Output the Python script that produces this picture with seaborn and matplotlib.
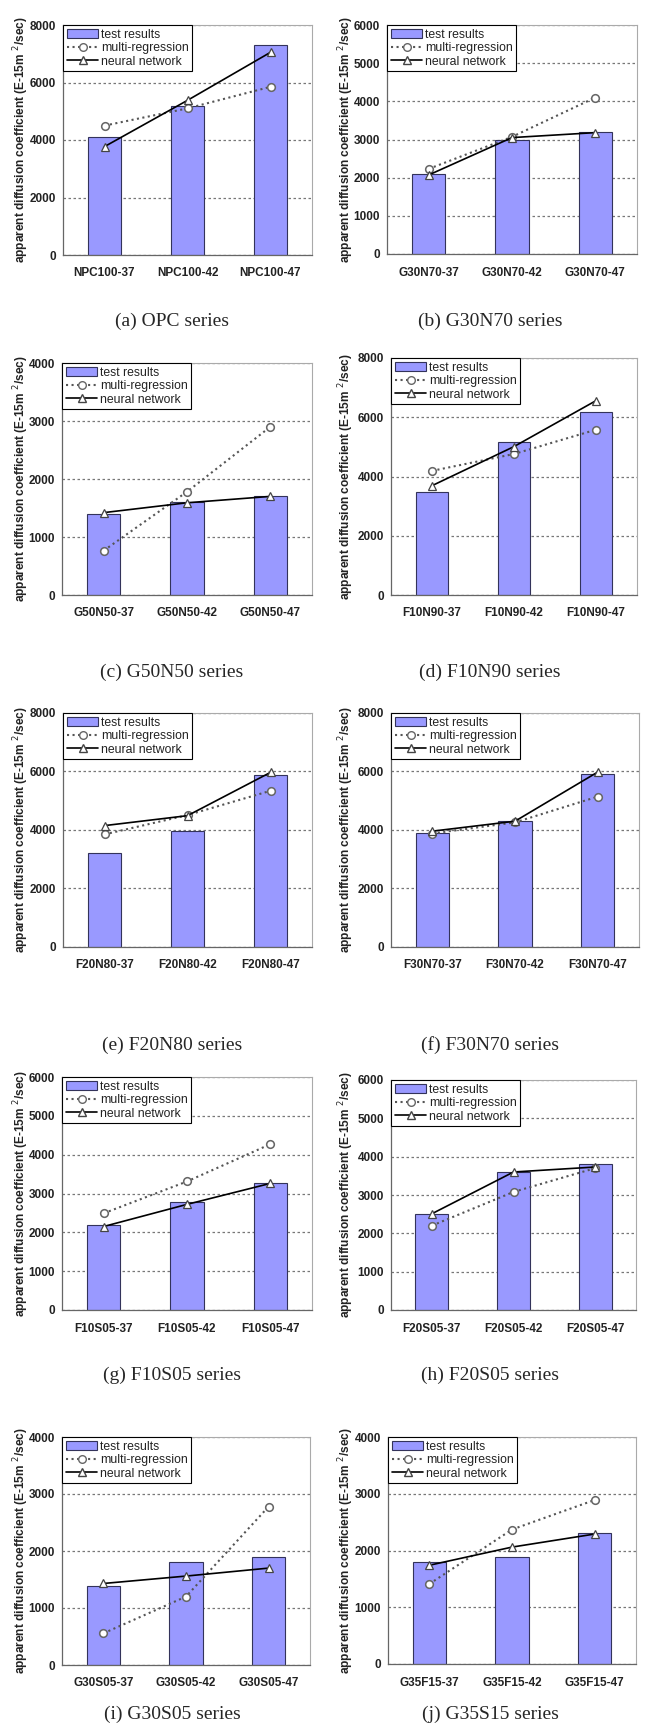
import numpy as np
import pandas as pd
import seaborn as sns
import matplotlib.pyplot as plt
from matplotlib.patches import Patch
from matplotlib.lines import Line2D

# panel data: categories, test results (bars), multi-regression, neural network
cats_a = ['NPC100-37', 'NPC100-42', 'NPC100-47']
test_a = [4100, 5200, 7300]
mreg_a = [4500, 5100, 5850]
nnet_a = [3770, 5380, 7050]

cats_b = ['G30N70-37', 'G30N70-42', 'G30N70-47']
test_b = [2100, 3000, 3200]
mreg_b = [2230, 3070, 4100]
nnet_b = [2070, 3050, 3180]

cats_c = ['G50N50-37', 'G50N50-42', 'G50N50-47']
test_c = [1400, 1600, 1710]
mreg_c = [765, 1780, 2900]
nnet_c = [1420, 1590, 1700]

cats_d = ['F10N90-37', 'F10N90-42', 'F10N90-47']
test_d = [3480, 5170, 6170]
mreg_d = [4190, 4760, 5580]
nnet_d = [3690, 5010, 6560]

cats_e = ['F20N80-37', 'F20N80-42', 'F20N80-47']
test_e = [3200, 3980, 5890]
mreg_e = [3850, 4510, 5340]
nnet_e = [4150, 4490, 5970]

cats_f = ['F30N70-37', 'F30N70-42', 'F30N70-47']
test_f = [3910, 4310, 5910]
mreg_f = [3880, 4260, 5140]
nnet_f = [3960, 4300, 5980]

cats_g = ['F10S05-37', 'F10S05-42', 'F10S05-47']
test_g = [2180, 2780, 3280]
mreg_g = [2490, 3310, 4270]
nnet_g = [2150, 2720, 3260]

cats_h = ['F20S05-37', 'F20S05-42', 'F20S05-47']
test_h = [2510, 3610, 3800]
mreg_h = [2200, 3080, 3700]
nnet_h = [2510, 3600, 3730]

cats_i = ['G30S05-37', 'G30S05-42', 'G30S05-47']
test_i = [1390, 1800, 1890]
mreg_i = [555, 1200, 2780]
nnet_i = [1430, 1560, 1700]

cats_j = ['G35F15-37', 'G35F15-42', 'G35F15-47']
test_j = [1800, 1890, 2300]
mreg_j = [1410, 2370, 2890]
nnet_j = [1740, 2060, 2290]

captions = ['(a) OPC series', '(b) G30N70 series', '(c) G50N50 series', '(d) F10N90 series',
            '(e) F20N80 series', '(f) F30N70 series', '(g) F10S05 series', '(h) F20S05 series',
            '(i) G30S05 series', '(j) G35S15 series']
ymaxes = [8000, 6000, 4000, 8000, 8000, 8000, 6000, 6000, 4000, 4000]
ysteps = [2000, 1000, 1000, 2000, 2000, 2000, 1000, 1000, 1000, 1000]

panels = [(cats_a, test_a, mreg_a, nnet_a), (cats_b, test_b, mreg_b, nnet_b),
          (cats_c, test_c, mreg_c, nnet_c), (cats_d, test_d, mreg_d, nnet_d),
          (cats_e, test_e, mreg_e, nnet_e), (cats_f, test_f, mreg_f, nnet_f),
          (cats_g, test_g, mreg_g, nnet_g), (cats_h, test_h, mreg_h, nnet_h),
          (cats_i, test_i, mreg_i, nnet_i), (cats_j, test_j, mreg_j, nnet_j)]

# axes boxes in pixels: left, right, top, bottom
boxes = [(63, 312, 25, 255), (387, 637, 25, 254),
         (62, 312, 363, 595), (391, 637, 358, 595),
         (63, 312, 713, 947), (391, 639, 713, 947),
         (62, 312, 1077, 1310), (391, 636, 1080, 1310),
         (62, 310, 1437, 1665), (388, 636, 1437, 1664)]
cap_y = [321, 321, 672, 672, 1045, 1045, 1375, 1375, 1714, 1714]
cap_x = [172, 490]
ylab_x = [31, 356]

W, H = 647, 1734
BAR = '#9999ff'

sns.set_style('white')
plt.rcParams['font.family'] = ['Liberation Sans', 'DejaVu Sans']

fig = plt.figure(figsize=(W / 100, H / 100), dpi=100, facecolor='w')

for k, (cats, test, mreg, nnet) in enumerate(panels):
    l, r, t, b = boxes[k]
    ax = fig.add_axes([l / W, 1 - b / H, (r - l) / W, (b - t) / H])
    df = pd.DataFrame({'cat': cats, 'test': test, 'mreg': mreg, 'nnet': nnet})
    sns.barplot(data=df, x='cat', y='test', color=BAR, width=0.4, saturation=1,
                edgecolor='#33335a', linewidth=0.8, ax=ax, zorder=2)
    sns.pointplot(data=df, x='cat', y='mreg', color='#555555', linestyles=':', markers='o',
                  markersize=5.5, markerfacecolor='white', markeredgecolor='#666666',
                  linewidth=1.5, ax=ax, zorder=3)
    sns.pointplot(data=df, x='cat', y='nnet', color='black', linestyles='-', markers='^',
                  markersize=5.5, markerfacecolor='white', markeredgecolor='#444444',
                  linewidth=1.2, ax=ax, zorder=4)
    ymax, step = ymaxes[k], ysteps[k]
    ax.set_xlim(-0.5, 2.5)
    ax.set_ylim(0, ymax)
    ax.set_yticks(np.arange(0, ymax + 1, step))
    ax.set_xticks(range(3))
    ax.set_xticks([0.5, 1.5], minor=True)
    ax.set_xticklabels(cats, fontsize=8.5, fontweight='bold', color='#222222')
    ax.tick_params(axis='y', labelsize=8.5, length=0, pad=5, labelcolor='#222222')
    for lab in ax.get_yticklabels():
        lab.set_fontweight('bold')
    ax.tick_params(axis='x', which='major', length=0, pad=9)
    ax.tick_params(axis='x', which='minor', length=3, width=0.8, color='#666666')
    ax.set_xlabel('')
    ax.set_ylabel('apparent diffusion coefficient (E-15m $^{2}$/sec)', fontsize=8.6,
                  fontweight='bold', color='#222222')
    ax.yaxis.set_label_coords((ylab_x[k % 2] - l) / (r - l), 0.5)
    ax.yaxis.grid(True, linestyle=(0, (2, 2)), color='#777777', linewidth=0.9, zorder=0)
    ax.set_axisbelow(True)
    for s in ['top', 'right']:
        ax.spines[s].set_color('#aaaaaa')
        ax.spines[s].set_linewidth(0.8)
    for s in ['left', 'bottom']:
        ax.spines[s].set_color('#666666')
        ax.spines[s].set_linewidth(0.9)
    handles = [Patch(facecolor=BAR, edgecolor='#33335a', linewidth=0.8),
               Line2D([], [], color='#555555', linestyle=':', linewidth=1.5, marker='o',
                      markersize=5.5, markerfacecolor='white', markeredgecolor='#666666'),
               Line2D([], [], color='black', linestyle='-', linewidth=1.2, marker='^',
                      markersize=5.5, markerfacecolor='white', markeredgecolor='#444444')]
    leg = ax.legend(handles, ['test results', 'multi-regression', 'neural network'],
                    loc='upper left', bbox_to_anchor=(0, 1), borderaxespad=0,
                    prop={'size': 8.8}, frameon=True, fancybox=False, edgecolor='black',
                    framealpha=1, handlelength=2.6, handletextpad=0.2,
                    labelspacing=0.12, borderpad=0.3)
    leg.get_frame().set_linewidth(0.8)
    for txt in leg.get_texts():
        txt.set_color('#222222')
    fig.text(cap_x[k % 2] / W, 1 - cap_y[k] / H, captions[k], ha='center', va='center',
             fontsize=14, family=['Liberation Serif', 'DejaVu Serif'])

plt.savefig('out.png', dpi=100, facecolor='w')
